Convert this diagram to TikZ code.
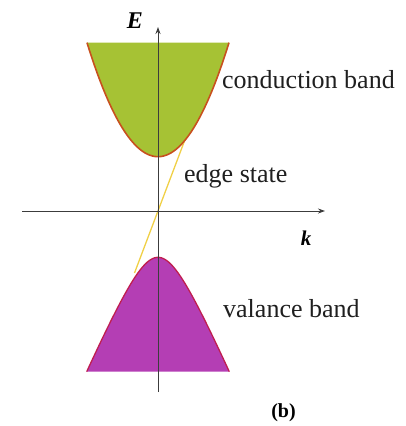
\documentclass[tikz,border=0pt]{standalone}
\usepackage{fontspec}
\setmainfont{Liberation Serif}
\usetikzlibrary{arrows.meta}
\definecolor{cbfill}{RGB}{166,194,52}
\definecolor{cbline}{RGB}{200,80,30}
\definecolor{vbfill}{RGB}{180,62,180}
\definecolor{vbline}{RGB}{192,30,80}
\definecolor{edgecol}{RGB}{240,208,70}
\definecolor{axiscol}{RGB}{60,60,60}
\tikzset{
  axisline/.style={axiscol, line width=1pt, -{Stealth[length=7pt,width=5pt]}},
  lbl/.style={anchor=base west, inner sep=0pt, font=\fontsize{26}{30}\selectfont, text=black!88},
  axlbl/.style={inner sep=0pt, font=\bfseries\itshape}
}
\begin{document}
\begin{tikzpicture}[x=1pt,y=-1pt]
\useasboundingbox (0,0) rectangle (405,426);
% edge state
\coordinate (es1) at (134.5,273);
\coordinate (es2) at (186,137);
\draw[edgecol, line width=1.3pt] (es1) -- (es2);
% conduction band
\fill[cbfill] plot[domain=-71:71, samples=60, smooth] ({158+\x},{156.7-114*(\x/71)^2}) -- cycle;
\draw[cbline, line width=1.6pt] plot[domain=-71:71, samples=60, smooth] ({158+\x},{156.7-114*(\x/71)^2});
% valence band
\fill[vbfill] plot[domain=-71.3:71.3, samples=60, smooth] ({158+\x},{257.3+10*sqrt(6.09*6.09+(0.2305*\x)^2)-60.9}) -- cycle;
\draw[vbline, line width=1.3pt] plot[domain=-71.3:71.3, samples=60, smooth] ({158+\x},{257.3+10*sqrt(6.09*6.09+(0.2305*\x)^2)-60.9});
% axes
\coordinate (vb) at (158,392);
\coordinate (vt) at (158,27);
\coordinate (hl) at (22,211);
\coordinate (hr) at (325,211);
\draw[axisline] (vb) -- (vt);
\draw[axisline] (hl) -- (hr);
% labels
\node[axlbl, font=\fontsize{24}{26}\selectfont\bfseries\itshape] (E) at (135,21) {E};
\node[axlbl, font=\fontsize{21}{24}\selectfont\bfseries\itshape] (k) at (306,238.5) {k};
\node[lbl] (cb) at (222,88) {conduction band};
\node[lbl] (es) at (184,182) {edge state};
\node[lbl] (vbl) at (223,317) {valance band};
\node[inner sep=0pt, font=\fontsize{20}{22}\selectfont\bfseries] (b) at (283.5,413) {(b)};
\end{tikzpicture}
\end{document}
